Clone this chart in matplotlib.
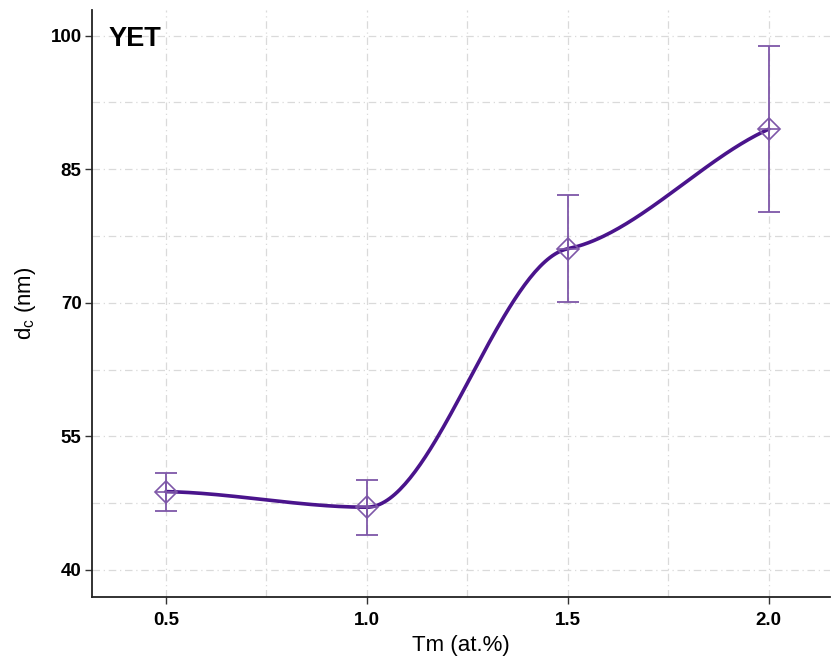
import numpy as np
import matplotlib
matplotlib.use("Agg")
import matplotlib.pyplot as plt
from matplotlib.ticker import FixedLocator

plt.rcParams['font.family'] = ['Liberation Sans', 'DejaVu Sans']

# data
tm = [0.5, 1.0, 1.5, 2.0]
dc = [48.8, 47.05, 76.07, 89.5]
dc_err_lo = [2.15, 3.1, 6.0, 9.35]
dc_err_hi = [2.05, 3.05, 6.0, 9.3]
xticks = [0.5, 1.0, 1.5, 2.0]
yticks = [40, 55, 70, 85, 100]

LINE_C = '#4a148c'
ERR_C = '#7e57a8'
GRID_C = '#dadada'


def smooth_curve(x, y, damp=0.75, n=80):
    # hermite pieces; pchip-like tangents damped to flatten at the points
    x = np.asarray(x, float)
    y = np.asarray(y, float)
    sec = np.diff(y) / np.diff(x)
    m = np.zeros_like(y)
    m[0] = (1 - damp) * sec[0]
    m[-1] = (1 - damp) * sec[-1] * 3
    for k in range(1, len(x) - 1):
        if sec[k-1] * sec[k] > 0:
            m[k] = (1 - damp) * 2 / (1/sec[k-1] + 1/sec[k])
    xs, ys = [], []
    for k in range(len(x) - 1):
        h = x[k+1] - x[k]
        t = np.linspace(0, 1, n)
        h00 = 2*t**3 - 3*t**2 + 1
        h10 = t**3 - 2*t**2 + t
        h01 = -2*t**3 + 3*t**2
        h11 = t**3 - t**2
        xs.append(x[k] + t*h)
        ys.append(h00*y[k] + h10*h*m[k] + h01*y[k+1] + h11*h*m[k+1])
    return np.concatenate(xs), np.concatenate(ys)


fig = plt.figure(figsize=(8.31, 6.65), dpi=100)
ax = fig.add_axes([0.1107, 0.1023, 0.888, 0.883])

sx, sy = smooth_curve(tm, dc)
ax.plot(sx, sy, color=LINE_C, lw=2.6, zorder=3, solid_capstyle='round')
ax.errorbar(tm, dc, yerr=[dc_err_lo, dc_err_hi], fmt='none', ecolor=ERR_C,
            elinewidth=1.3, capsize=8, capthick=1.3, zorder=4)
# diamond-plus markers
ax.plot(tm, dc, linestyle='none', marker='D', ms=11.5, mfc='none', mec=ERR_C,
        mew=1.2, zorder=5)
ax.plot(tm, dc, linestyle='none', marker='+', ms=16, mec=ERR_C,
        mew=1.2, zorder=5)

ax.set_xlim(0.316, 2.152)
ax.set_ylim(36.97, 102.9)
ax.set_xticks(xticks)
ax.set_xticklabels(['%.1f' % v for v in xticks])
ax.set_yticks(yticks)
ax.xaxis.set_minor_locator(FixedLocator([0.75, 1.25, 1.75]))
ax.yaxis.set_minor_locator(FixedLocator([47.5, 62.5, 77.5, 92.5]))

ax.grid(which='both', color=GRID_C, lw=0.9, linestyle=(0, (6, 3, 1, 3)), zorder=0)
ax.tick_params(which='minor', length=0)
ax.tick_params(which='major', direction='out', length=5, width=1, color='#333333',
               labelsize=13.5)
ax.tick_params(axis='y', pad=2.5)
ax.tick_params(axis='x', pad=6)
for lab in ax.get_xticklabels() + ax.get_yticklabels():
    lab.set_fontweight('bold')

for s in ['top', 'right']:
    ax.spines[s].set_visible(False)
for s in ['left', 'bottom']:
    ax.spines[s].set_linewidth(1.3)
    ax.spines[s].set_color('#222222')

ax.set_xlabel('Tm (at.%)', fontsize=16, labelpad=4)
ax.set_ylabel('d$_\\mathregular{c}$ (nm)', fontsize=16, labelpad=9)
ax.text(0.022, 0.950, 'YET', transform=ax.transAxes, fontsize=19.5,
        fontweight='bold', va='center', ha='left')

fig.savefig('out.png', dpi=100)
